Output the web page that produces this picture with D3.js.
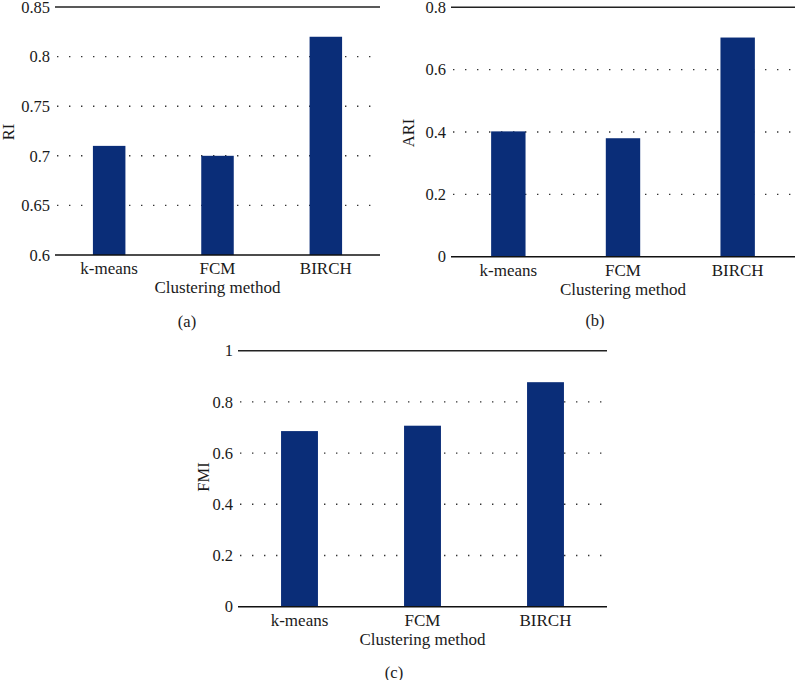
<!DOCTYPE html>
<html><head><meta charset="utf-8">
<script src="https://cdn.jsdelivr.net/npm/d3@7"></script>
<style>
body{margin:0;background:#fff;}
text{font-family:"Liberation Serif","Times New Roman",serif;fill:#1a1a1a;}
</style></head>
<body><svg id="c" width="795" height="680"></svg>
<script>
const categories = ["k-means", "FCM", "BIRCH"];
const riValues = [0.71, 0.70, 0.82];
const ariValues = [0.402, 0.38, 0.703];
const fmiValues = [0.686, 0.707, 0.877];
const riTicks = [0.6, 0.65, 0.7, 0.75, 0.8, 0.85];
const riTickLabels = ["0.6", "0.65", "0.7", "0.75", "0.8", "0.85"];
const ariTicks = [0, 0.2, 0.4, 0.6, 0.8];
const ariTickLabels = ["0", "0.2", "0.4", "0.6", "0.8"];
const fmiTicks = [0, 0.2, 0.4, 0.6, 0.8, 1];
const fmiTickLabels = ["0", "0.2", "0.4", "0.6", "0.8", "1"];
const xTitle = "Clustering method";

const svg = d3.select("#c");

function panel(o) {
  const g = svg.append("g");
  const x = d3.scaleBand().domain(categories).range([o.x0, o.x1]).paddingInner(0.7).paddingOuter(0.35);
  const y = d3.scaleLinear().domain([o.ticks[0], o.ticks[o.ticks.length - 1]]).range([o.y0, o.y1]);
  g.selectAll("line.grid").data(o.ticks.slice(1, -1)).join("line")
    .attr("x1", o.x0 + 2).attr("x2", o.x1 - 2)
    .attr("y1", d => y(d)).attr("y2", d => y(d))
    .attr("stroke", "#333").attr("stroke-width", 1.4)
    .attr("stroke-dasharray", "1.4,10.6");
  g.append("line").attr("x1", o.x0).attr("x2", o.x1)
    .attr("y1", y(o.ticks[o.ticks.length - 1])).attr("y2", y(o.ticks[o.ticks.length - 1]))
    .attr("stroke", "#222").attr("stroke-width", 1.4);
  g.selectAll("rect").data(o.values).join("rect")
    .attr("x", (d, i) => x(categories[i]))
    .attr("width", x.bandwidth())
    .attr("y", d => y(d))
    .attr("height", d => y(o.ticks[0]) - y(d))
    .attr("fill", "#0a2d78");
  g.append("line").attr("x1", o.x0).attr("x2", o.x1)
    .attr("y1", y(o.ticks[0])).attr("y2", y(o.ticks[0]))
    .attr("stroke", "#111").attr("stroke-width", 1.4);
  g.selectAll("text.yt").data(o.ticks).join("text")
    .attr("x", o.x0 - 5).attr("y", d => y(d))
    .attr("dy", "0.35em").attr("text-anchor", "end")
    .attr("font-size", 16.5).text((d, i) => o.tickLabels[i]);
  g.selectAll("text.xt").data(categories).join("text")
    .attr("x", d => x(d) + x.bandwidth() / 2).attr("y", y(o.ticks[0]) + 13)
    .attr("dy", "0.35em").attr("text-anchor", "middle")
    .attr("font-size", 17).text(d => d);
  g.append("text").attr("x", (o.x0 + o.x1) / 2).attr("y", y(o.ticks[0]) + 32)
    .attr("dy", "0.35em").attr("text-anchor", "middle")
    .attr("font-size", 17).text(xTitle);
  g.append("text").attr("transform", `translate(${o.ylx},${o.yly}) rotate(-90)`)
    .attr("dy", "0.35em").attr("text-anchor", "middle")
    .attr("font-size", 16.5).text(o.ytitle);
  g.append("text").attr("x", o.plx).attr("y", o.ply)
    .attr("dy", "0.35em").attr("text-anchor", "middle")
    .attr("font-size", 16.5).text(o.plabel);
}

panel({x0: 55, x1: 380, y0: 255, y1: 7, ticks: riTicks, tickLabels: riTickLabels, values: riValues,
  ytitle: "RI", ylx: 8, yly: 132, plabel: "(a)", plx: 187, ply: 321});
panel({x0: 451, x1: 795, y0: 256.7, y1: 7.3, ticks: ariTicks, tickLabels: ariTickLabels, values: ariValues,
  ytitle: "ARI", ylx: 408, yly: 133, plabel: "(b)", plx: 595, ply: 320});
panel({x0: 238, x1: 607, y0: 606.7, y1: 350.7, ticks: fmiTicks, tickLabels: fmiTickLabels, values: fmiValues,
  ytitle: "FMI", ylx: 203, yly: 477, plabel: "(c)", plx: 394, ply: 672});
</script></body></html>
